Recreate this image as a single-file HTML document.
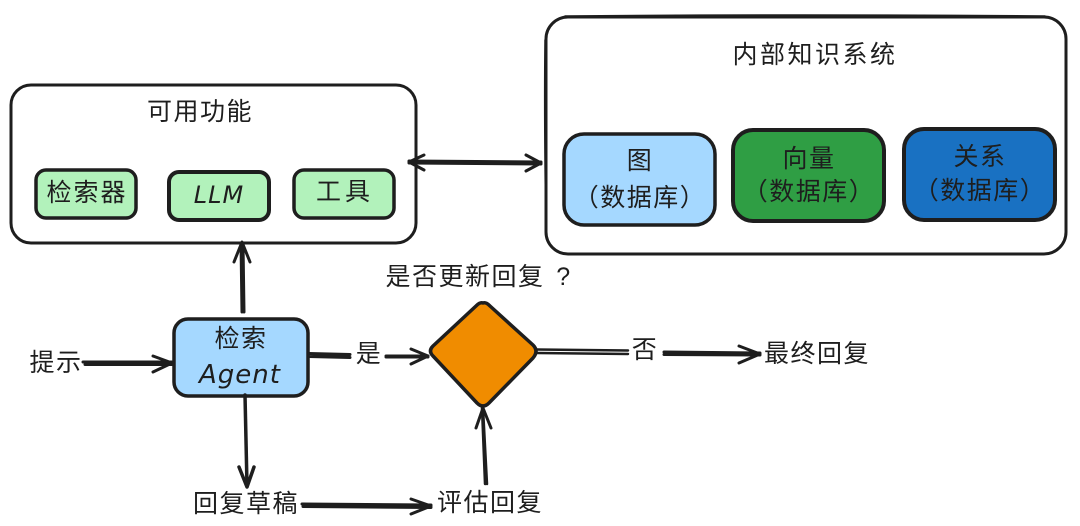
<!DOCTYPE html>
<html><head><meta charset="utf-8">
<style>
html,body{margin:0;padding:0;background:#fff;width:1080px;height:526px;overflow:hidden}
svg{display:block}
text{font-family:"Liberation Sans","WenQuanYi Zen Hei","Noto Sans CJK SC",sans-serif;fill:#1e1e1e;text-anchor:middle;font-size:25px;letter-spacing:1.5px}
.l{font-family:"DejaVu Sans",sans-serif;font-style:italic;font-size:24px;letter-spacing:1px}
.s{stroke:#1e1e1e;stroke-linecap:round;stroke-linejoin:round}
.n{fill:none}
</style></head><body>
<svg width="1080" height="526" viewBox="0 0 1080 526" xmlns="http://www.w3.org/2000/svg">
<!-- containers -->
<rect x="11" y="85" width="405" height="158" rx="20" fill="#fff" class="s" stroke-width="3"/>
<rect x="546" y="17" width="520" height="237" rx="22" fill="#fff" class="s" stroke-width="3"/>
<path class="s n" stroke-width="1.500" d="M565 16Q800 14 1045 16"/>
<path class="s n" stroke-width="1.500" d="M545 40Q544 120 546 235"/>
<!-- green boxes -->
<rect x="36" y="170" width="100" height="48" rx="10" fill="#b2f2bb" class="s" stroke-width="3.500"/>
<rect x="169" y="172" width="100" height="48" rx="10" fill="#b2f2bb" class="s" stroke-width="4"/>
<rect x="294" y="170" width="100" height="48" rx="10" fill="#b2f2bb" class="s" stroke-width="3.500"/>
<!-- db boxes -->
<rect x="564" y="134" width="151" height="91" rx="20" fill="#a5d8ff" class="s" stroke-width="3.500"/>
<rect x="733" y="130" width="151" height="91" rx="20" fill="#2f9e44" class="s" stroke-width="4"/>
<rect x="904" y="129" width="151" height="91" rx="20" fill="#1971c2" class="s" stroke-width="4"/>
<!-- agent -->
<rect x="174" y="319" width="134" height="77" rx="14" fill="#a5d8ff" class="s" stroke-width="3.500"/>
<!-- diamond -->
<path d="M483 303Q480 302 476 306L433 346Q428 351 433 356L477 403Q483 409 489 403L533 358Q539 351 533 345L490 306Q486 302 483 303Z" fill="#f08c00" class="s" stroke-width="3.500"/>
<!-- arrows -->
<g class="s n" stroke-width="3">
<path d="M409 163L541 164M409 161L541 162" stroke-width="3"/>
<path d="M424 155L409 162L424 170M526 155L541 163L526 171" stroke-width="3"/>
<path d="M242 312L241 243M244 312L243 243"/>
<path d="M234 262L242 242L250 262"/>
<path d="M83 362L172 362M85 364.500L172 364.500"/>
<path d="M153 356L172 363L153 372"/>
<path d="M309 353.500L350 354.500M309 356.500L350 357.500"/>
<path d="M386 356L428 356M386 357L428 357"/>
<path d="M411 349L428 356L411 364"/>
<path d="M245 395L247 486" stroke-width="3.500"/>
<path d="M239 467L247 487L254 467" stroke-width="3.500"/>
<path d="M302 504L431 505M303 506.500L431 507.500"/>
<path d="M411 499L431 506L411 514"/>
<path d="M487 484L483 408M485 484L482 408" stroke-width="2.500"/>
<path d="M476 428L483 408L491 428"/>
<path d="M537 349.500L628 350.500M537 353L628 354" stroke-width="2.500"/>
<path d="M664 352L760 353M664 354.500L760 355"/>
<path d="M739 346L760 354L739 363"/>
</g>
<!-- labels -->
<text x="200" y="120">可用功能</text>
<text x="815" y="63" style="letter-spacing:2.500px">内部知识系统</text>
<text x="87" y="201" style="letter-spacing:2px">检索器</text>
<text class="l" x="219" y="203">LLM</text>
<text x="345" y="200" style="letter-spacing:4px">工具</text>
<text x="640" y="169">图</text>
<text x="640" y="206">（数据库）</text>
<text x="809" y="167">向量</text>
<text x="809" y="200">（数据库）</text>
<text x="980" y="165">关系</text>
<text x="980" y="199">（数据库）</text>
<text x="241" y="347">检索</text>
<text class="l" x="240" y="383" style="font-size:26px">Agent</text>
<text x="56" y="371">提示</text>
<text x="369" y="362">是</text>
<text x="465" y="285">是否更新回复</text>
<text x="564" y="285">?</text>
<text x="645" y="358">否</text>
<text x="817" y="362">最终回复</text>
<text x="246" y="512">回复草稿</text>
<text x="490" y="511">评估回复</text>
</svg>
</body></html>
